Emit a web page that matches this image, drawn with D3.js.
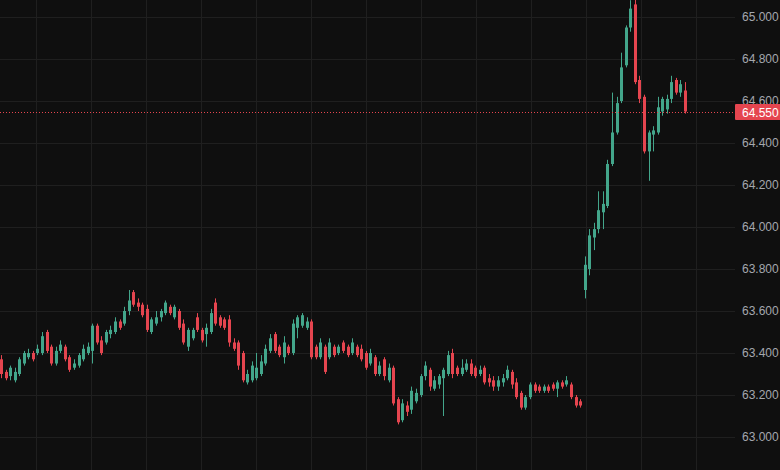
<!DOCTYPE html>
<html>
<head>
<meta charset="utf-8">
<script src="https://cdn.jsdelivr.net/npm/d3@7"></script>
<style>
  html, body { margin: 0; padding: 0; background: #0f0f0f; }
  svg { display: block; }
</style>
</head>
<body>
<svg id="chart" width="780" height="470"></svg>
<script>
"use strict";

// candle values, one entry per bar
const opens = [63.37,63.31,63.29,63.27,63.30,63.35,63.38,63.40,63.40,63.40,63.50,63.43,63.35,63.41,63.43,63.38,63.33,63.34,63.37,63.40,
  63.41,63.53,63.46,63.45,63.49,63.50,63.55,63.54,63.60,63.69,63.64,63.63,63.61,63.50,63.54,63.57,63.59,63.62,63.57,63.60,
  63.54,63.43,63.47,63.57,63.51,63.49,63.50,63.64,63.57,63.56,63.56,63.45,63.45,63.40,63.26,63.27,63.28,63.30,63.35,63.41,
  63.49,63.43,63.38,63.43,63.40,63.52,63.53,63.52,63.55,63.43,63.38,63.43,63.38,63.43,63.40,63.45,63.43,63.40,63.43,63.42,
  63.40,63.35,63.38,63.30,63.37,63.27,63.33,63.18,63.08,63.15,63.13,63.17,63.20,63.29,63.32,63.23,63.25,63.28,63.30,63.40,
  63.33,63.30,63.32,63.35,63.33,63.30,63.33,63.28,63.27,63.24,63.26,63.28,63.31,63.26,63.21,63.14,63.19,63.25,63.24,63.22,
  63.24,63.25,63.23,63.26,63.25,63.25,63.19,63.17,
  63.70,63.80,63.95,63.99,64.07,64.10,64.30,64.45,64.60,64.77,64.95,65.06,64.70,64.62,64.36,64.44,64.45,64.55,64.56,64.61,
  64.70,64.64,64.65];
const highs = [63.39,63.32,63.34,63.33,63.38,63.41,63.42,63.41,63.44,63.50,63.51,63.44,63.43,63.46,63.44,63.39,63.37,63.40,63.44,63.45,
  63.54,63.54,63.48,63.51,63.53,63.57,63.56,63.62,63.70,63.70,63.66,63.64,63.63,63.57,63.60,63.61,63.65,63.63,63.63,63.61,
  63.56,63.52,63.52,63.59,63.52,63.54,63.61,63.66,63.58,63.57,63.58,63.47,63.46,63.41,63.32,63.36,63.40,63.39,63.44,63.49,
  63.50,63.44,63.48,63.44,63.56,63.58,63.59,63.57,63.56,63.44,63.47,63.44,63.47,63.44,63.44,63.46,63.44,63.47,63.44,63.44,
  63.41,63.42,63.39,63.36,63.38,63.35,63.34,63.19,63.18,63.17,63.24,63.23,63.30,63.36,63.33,63.29,63.30,63.33,63.41,63.42,
  63.34,63.37,63.37,63.37,63.34,63.34,63.34,63.30,63.29,63.29,63.30,63.34,63.32,63.28,63.22,63.20,63.26,63.26,63.25,63.25,
  63.25,63.26,63.27,63.27,63.29,63.26,63.20,63.18,
  63.86,63.99,64.02,64.17,64.17,64.32,64.64,64.62,64.83,64.96,65.08,65.10,64.72,64.63,64.46,64.48,64.62,64.62,64.63,64.72,
  64.71,64.70,64.69];
const lows = [63.28,63.27,63.27,63.26,63.29,63.34,63.37,63.36,63.39,63.39,63.40,63.34,63.34,63.40,63.36,63.31,63.32,63.33,63.36,63.39,
  63.35,63.44,63.39,63.44,63.47,63.49,63.51,63.53,63.58,63.62,63.60,63.57,63.50,63.49,63.53,63.55,63.58,63.58,63.56,63.51,
  63.44,63.41,63.46,63.50,63.45,63.43,63.49,63.53,63.52,63.51,63.43,63.41,63.32,63.26,63.25,63.26,63.27,63.29,63.34,63.40,
  63.40,63.38,63.35,63.39,63.39,63.47,63.52,63.51,63.37,63.37,63.37,63.30,63.37,63.38,63.39,63.40,63.38,63.39,63.38,63.36,
  63.32,63.34,63.29,63.29,63.27,63.26,63.15,63.06,63.07,63.10,63.11,63.16,63.19,63.27,63.22,63.22,63.23,63.10,63.29,63.28,
  63.29,63.29,63.31,63.29,63.28,63.29,63.25,63.24,63.22,63.22,63.24,63.27,63.23,63.18,63.13,63.13,63.18,63.21,63.21,63.21,
  63.21,63.22,63.19,63.23,63.24,63.18,63.14,63.14,
  63.66,63.77,63.89,63.97,63.99,64.09,64.29,64.44,64.59,64.76,64.93,64.68,64.59,64.35,64.22,64.36,64.44,64.53,64.54,64.59,
  64.63,64.62,64.54];
const closes = [63.30,63.28,63.33,63.31,63.37,63.40,63.40,63.37,63.42,63.48,63.41,63.35,63.41,63.44,63.37,63.32,63.35,63.39,63.42,63.43,
  63.53,63.45,63.40,63.50,63.51,63.55,63.52,63.60,63.65,63.63,63.62,63.58,63.51,63.56,63.57,63.60,63.64,63.59,63.62,63.52,
  63.45,63.51,63.51,63.51,63.46,63.52,63.59,63.54,63.53,63.52,63.45,63.42,63.34,63.27,63.30,63.34,63.33,63.36,63.42,63.47,
  63.41,63.39,63.45,63.40,63.54,63.57,63.58,63.55,63.38,63.38,63.45,63.31,63.45,63.39,63.43,63.41,63.39,63.45,63.39,63.37,
  63.33,63.40,63.30,63.34,63.29,63.33,63.16,63.07,63.16,63.12,63.22,63.21,63.29,63.34,63.24,63.27,63.29,63.32,63.39,63.30,
  63.30,63.33,63.35,63.30,63.29,63.32,63.26,63.26,63.24,63.27,63.28,63.32,63.25,63.19,63.14,63.19,63.25,63.22,63.22,63.24,
  63.22,63.23,63.26,63.24,63.27,63.19,63.15,63.15,
  63.82,63.96,63.99,64.08,64.11,64.30,64.45,64.59,64.76,64.95,65.04,64.69,64.61,64.36,64.45,64.46,64.57,64.61,64.61,64.69,
  64.64,64.68,64.55];

// time gridlines, in bar index units
const timeGrid = [7.7, 19.7, 31.8, 43.9, 55.9, 68.0, 80.0, 92.1, 104.2, 116.2, 128.3, 140.3, 152.4];
const lastPrice = 64.55;

const plotRight = 735;
const upColor = "#43a68b";
const downColor = "#e5454f";

const candles = opens.map((o, i) => ({
  i: i, open: o, high: highs[i], low: lows[i], close: closes[i]
}));

const svg = d3.select("#chart");

const xScale = d3.scaleLinear()
  .domain([0, candles.length - 1])
  .range([1, 685]);
const yScale = d3.scaleLinear()
  .domain([63, 65])
  .range([437, 17]);

svg.append("rect")
  .attr("width", 780).attr("height", 470)
  .attr("fill", "#0f0f0f");

const priceTicks = yScale.ticks(10);

// grid
svg.append("g").selectAll("line")
  .data(priceTicks)
  .join("line")
    .attr("x1", 0).attr("x2", plotRight)
    .attr("y1", d => Math.round(yScale(d)) + 0.5)
    .attr("y2", d => Math.round(yScale(d)) + 0.5)
    .attr("stroke", "#1f1f1f");

svg.append("g").selectAll("line")
  .data(timeGrid)
  .join("line")
    .attr("x1", d => Math.round(xScale(d)) + 0.5)
    .attr("x2", d => Math.round(xScale(d)) + 0.5)
    .attr("y1", 0).attr("y2", 470)
    .attr("stroke", "#1f1f1f");

// candles
const plot = svg.append("g");
const colorOf = d => d.close >= d.open ? upColor : downColor;

plot.selectAll("line.wick")
  .data(candles)
  .join("line")
    .attr("class", "wick")
    .attr("x1", d => Math.round(xScale(d.i)) + 0.5)
    .attr("x2", d => Math.round(xScale(d.i)) + 0.5)
    .attr("y1", d => yScale(d.high))
    .attr("y2", d => yScale(d.low))
    .attr("stroke", colorOf)
    .attr("stroke-width", 1);

plot.selectAll("rect.body")
  .data(candles)
  .join("rect")
    .attr("class", "body")
    .attr("x", d => Math.round(xScale(d.i)) - 1)
    .attr("y", d => yScale(Math.max(d.open, d.close)))
    .attr("width", 3)
    .attr("height", d => Math.max(1, Math.abs(yScale(d.open) - yScale(d.close))))
    .attr("fill", colorOf);

// last price line
const yLast = Math.round(yScale(lastPrice)) + 0.5;
svg.append("line")
  .attr("x1", 0).attr("x2", plotRight)
  .attr("y1", yLast).attr("y2", yLast)
  .attr("stroke", downColor)
  .attr("stroke-width", 1)
  .attr("stroke-dasharray", "1,2");

// price axis labels
svg.append("g").selectAll("text")
  .data(priceTicks)
  .join("text")
    .attr("x", 742)
    .attr("y", d => yScale(d))
    .attr("dy", "0.35em")
    .attr("fill", "#a4a7ae")
    .attr("font-family", "Liberation Sans, Arial, sans-serif")
    .attr("font-size", 12)
    .text(d3.format(".3f"));

svg.append("rect")
  .attr("x", 735).attr("y", yLast - 8.5)
  .attr("width", 50).attr("height", 16)
  .attr("rx", 1)
  .attr("fill", downColor);
svg.append("text")
  .attr("x", 742)
  .attr("y", yLast)
  .attr("dy", "0.35em")
  .attr("fill", "#ffffff")
  .attr("font-family", "Liberation Sans, Arial, sans-serif")
  .attr("font-size", 12)
  .text(d3.format(".3f")(lastPrice));
</script>
</body>
</html>
